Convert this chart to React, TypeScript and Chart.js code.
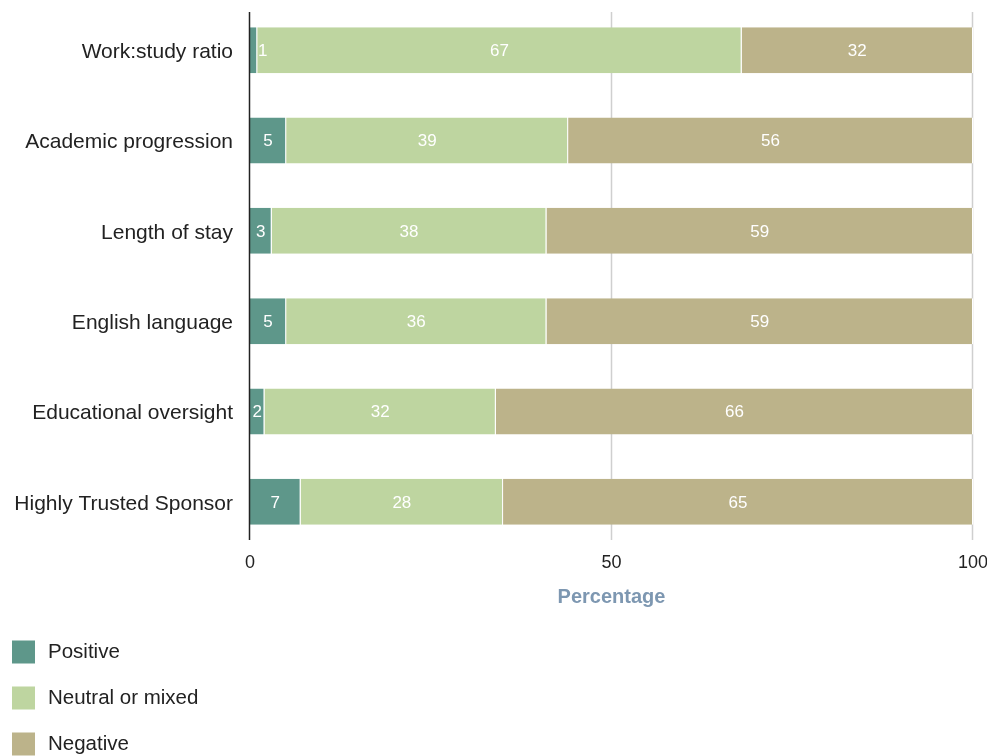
import React, { useEffect, useRef } from "react";
import { Chart, registerables } from "chart.js";

Chart.register(...registerables);

const categories = [
  "Work:study ratio",
  "Academic progression",
  "Length of stay",
  "English language",
  "Educational oversight",
  "Highly Trusted Sponsor",
];
const positive = [1, 5, 3, 5, 2, 7];
const neutral = [67, 39, 38, 36, 32, 28];
const negative = [32, 56, 59, 59, 66, 65];
const seriesNames = ["Positive", "Neutral or mixed", "Negative"];
const seriesColors = ["#5e978a", "#bed5a0", "#bcb38a"];
const xTicks = [0, 50, 100];

const FONT = "'Liberation Sans', Arial, Helvetica, sans-serif";

const linesPlugin = {
  id: "customLines",
  beforeDatasetsDraw(chart: any) {
    const { ctx } = chart;
    const x = chart.scales.x;
    const top = chart.chartArea.top + 7;
    const bottom = chart.chartArea.bottom - 7;
    ctx.save();
    ctx.lineWidth = 1.5;
    ctx.strokeStyle = "#cfcfcf";
    xTicks.forEach((t) => {
      if (t === 0) return;
      const px = Math.round(x.getPixelForValue(t)) - 0.5;
      ctx.beginPath();
      ctx.moveTo(px, top);
      ctx.lineTo(px, bottom);
      ctx.stroke();
    });
    ctx.restore();
  },
  afterDatasetsDraw(chart: any) {
    const { ctx } = chart;
    const x = chart.scales.x;
    const top = chart.chartArea.top + 7;
    const bottom = chart.chartArea.bottom - 7;
    ctx.save();
    ctx.lineWidth = 1.5;
    ctx.strokeStyle = "#222";
    const px = Math.round(x.getPixelForValue(0)) - 0.5;
    ctx.beginPath();
    ctx.moveTo(px, top);
    ctx.lineTo(px, bottom);
    ctx.stroke();

    // value labels
    ctx.fillStyle = "#ffffff";
    ctx.font = `17px ${FONT}`;
    ctx.textAlign = "center";
    ctx.textBaseline = "middle";
    chart.data.datasets.forEach((ds: any, di: number) => {
      const meta = chart.getDatasetMeta(di);
      meta.data.forEach((el: any, i: number) => {
        const v = ds.data[i];
        const w = Math.abs(el.x - el.base);
        const tw = ctx.measureText(String(v)).width;
        let cx = (el.x + el.base) / 2;
        if (w < tw) cx = Math.min(el.x, el.base) + tw / 2 + 8;
        ctx.fillText(String(v), cx, el.y + 1);
      });
    });
    ctx.restore();
  },
  afterDraw(chart: any) {
    const { ctx } = chart;
    ctx.save();
    ctx.font = `20.5px ${FONT}`;
    ctx.textAlign = "left";
    ctx.textBaseline = "middle";
    chart.data.datasets.forEach((ds: any, di: number) => {
      const cy = 652 + di * 46;
      ctx.fillStyle = ds.backgroundColor;
      ctx.fillRect(12, cy - 11.5, 23, 23);
      ctx.fillStyle = "#222";
      ctx.fillText(ds.label, 48, cy);
    });
    ctx.restore();
  },
};

export default function App() {
  const ref = useRef<HTMLCanvasElement | null>(null);
  useEffect(() => {
    if (!ref.current) return;
    const values = [positive, neutral, negative];
    const chart = new Chart(ref.current, {
      type: "bar",
      data: {
        labels: categories,
        datasets: seriesNames.map((name, i) => ({
          label: name,
          data: values[i],
          backgroundColor: seriesColors[i],
          borderColor: "#ffffff",
          borderWidth: { top: 0, bottom: 0, left: 0, right: 1 },
          borderSkipped: false,
          categoryPercentage: 1,
          barPercentage: 0.51,
        })),
      },
      options: {
        indexAxis: "y",
        animation: false,
        responsive: true,
        maintainAspectRatio: false,
        layout: { padding: { top: 5, right: 14, bottom: 0, left: 0 } },
        plugins: {
          legend: { display: false },
          tooltip: { enabled: false },
        },
        scales: {
          x: {
            stacked: true,
            min: 0,
            max: 100,
            afterBuildTicks: (scale: any) => {
              scale.ticks = xTicks.map((v) => ({ value: v }));
            },
            afterFit: (scale: any) => {
              scale.height = 209;
              scale.paddingLeft = 0;
              scale.paddingRight = 0;
            },
            grid: { display: false, drawTicks: false },
            border: { display: false },
            ticks: {
              color: "#222",
              font: { family: FONT, size: 18 },
              padding: 5,
            },
            title: {
              display: true,
              text: "Percentage",
              color: "#7d97b1",
              font: { family: FONT, size: 20, weight: "bold" },
              padding: { top: 0, bottom: 147 },
            },
          },
          y: {
            stacked: true,
            afterFit: (scale: any) => {
              scale.width = 250;
              scale.paddingTop = 0;
              scale.paddingBottom = 0;
            },
            grid: { display: false, drawTicks: false },
            border: { display: false },
            ticks: {
              color: "#222",
              font: { family: FONT, size: 21 },
              padding: 17,
              labelOffset: 2,
            },
          },
        },
      },
      plugins: [linesPlugin],
    });
    return () => chart.destroy();
  }, []);
  return (
    <div style={{ position: "fixed", left: 0, top: 0, width: 987, height: 756, background: "#fff" }}>
      <canvas ref={ref} />
    </div>
  );
}
